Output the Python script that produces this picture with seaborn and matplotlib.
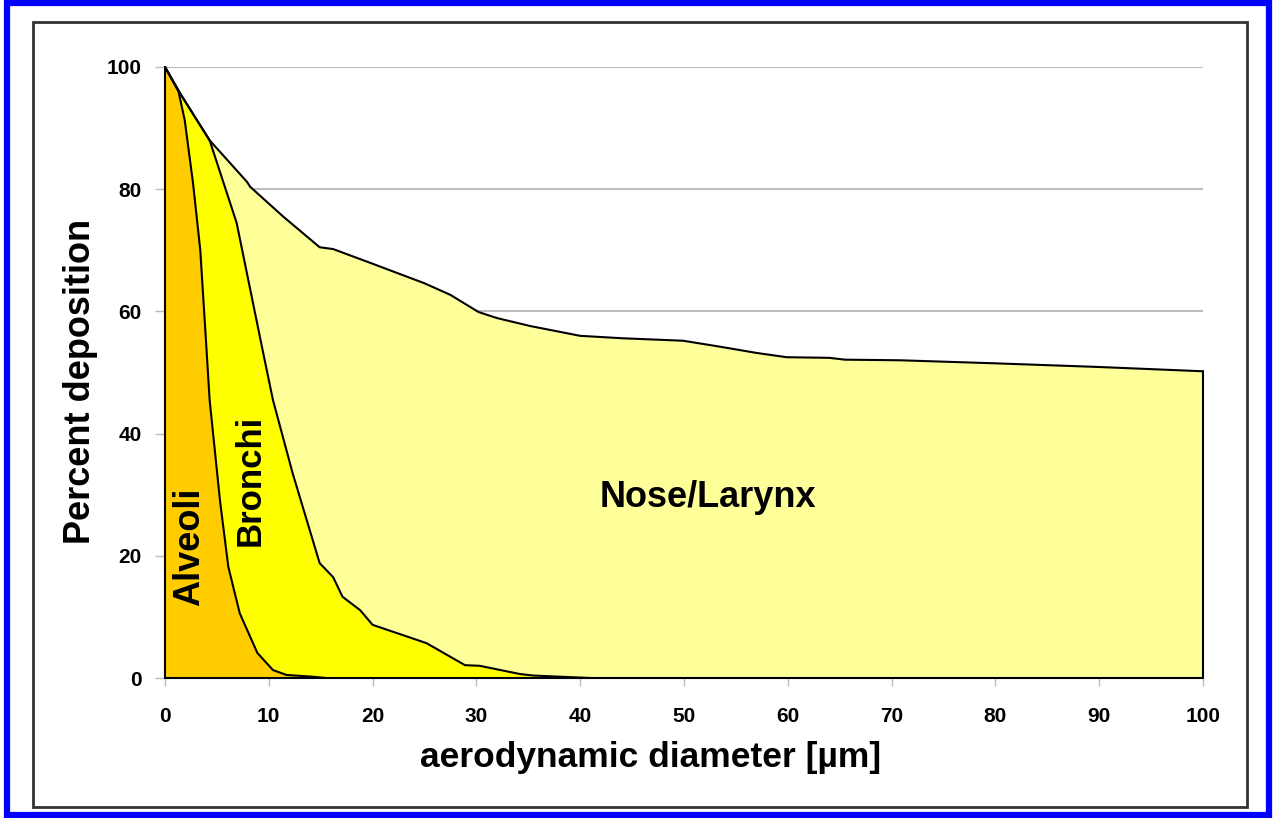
import numpy as np
import pandas as pd
import seaborn as sns
import matplotlib.pyplot as plt
from matplotlib.patches import Rectangle

# données : diamètre (µm) -> dépôt cumulé (%)
nose_x = [0, 1.45, 4.3, 7.9, 8.2, 11.4, 14.9, 16.2, 20, 25, 27.5, 30.2, 32, 35.2, 40, 44.1,
          49.9, 53.2, 57, 59.9, 64, 65.5, 70.8, 80, 90, 100]
nose_y = [100, 95.7, 88, 81.2, 80.4, 75.5, 70.5, 70.2, 67.8, 64.6, 62.7, 59.9, 58.9, 57.6, 56,
          55.6, 55.2, 54.3, 53.2, 52.5, 52.4, 52.1, 52, 51.5, 50.9, 50.2]

bronchi_x = [0, 1.45, 4.3, 6.9, 9.4, 10.4, 12.3, 14.9, 16.2, 17.1, 18.8, 20, 25.2, 28.9,
             30.3, 34.2, 35.5, 41]
bronchi_y = [100, 95.7, 88, 74.5, 53.7, 45.5, 33.5, 18.8, 16.5, 13.3, 11.1, 8.7, 5.7, 2.1,
             2.0, 0.65, 0.4, 0.0]

alveoli_x = [0, 1.3, 1.9, 2.7, 3.4, 3.9, 4.3, 5.3, 6.1, 7.2, 8.9, 10.4, 11.7, 14.3, 15.5]
alveoli_y = [100, 96, 91.3, 81, 70, 56.5, 45.5, 29, 18.2, 10.6, 4.1, 1.3, 0.5, 0.2, 0.0]

regions = [
    ('Nose/Larynx', nose_x, nose_y, '#FFFF99'),
    ('Bronchi', bronchi_x, bronchi_y, '#FFFF00'),
    ('Alveoli', alveoli_x, alveoli_y, '#FFCC00'),
]

sns.set_style('white')
plt.rcParams['font.family'] = ['Liberation Sans', 'DejaVu Sans']
plt.rcParams['text.color'] = 'black'
plt.rcParams['xtick.color'] = 'black'
plt.rcParams['ytick.color'] = 'black'
plt.rcParams['axes.labelcolor'] = 'black'

fig = plt.figure(figsize=(12.73, 8.18), dpi=100)

# cadre bleu + cadre noir du graphique
fig.patches.append(Rectangle((7 / 1273, 3 / 818), 1262 / 1273, 812 / 818, transform=fig.transFigure,
                             fill=False, edgecolor='#0000FF', linewidth=4.5))
fig.patches.append(Rectangle((33 / 1273, 11 / 818), 1214 / 1273, 785 / 818, transform=fig.transFigure,
                             fill=False, edgecolor='#333333', linewidth=2))

ax = fig.add_axes([165 / 1273, 140 / 818, 1038 / 1273, 611 / 818])

for name, xs, ys, color in regions:
    df = pd.DataFrame({'x': xs, 'y': ys})
    ax.fill_between(df['x'], 0, df['y'], color=color, linewidth=0, zorder=2)
    sns.lineplot(data=df, x='x', y='y', color='black', linewidth=1.5, ax=ax,
                 zorder=3, clip_on=False, sort=False)

# bords de la zone : ligne à x=0, en bas et à x=100
ax.plot([0, 0], [0, 100], color='black', linewidth=1.5, zorder=3, clip_on=False)
ax.plot([0, 100], [0, 0], color='black', linewidth=1.5, zorder=3, clip_on=False)
ax.plot([100, 100], [0, nose_y[-1]], color='black', linewidth=1.5, zorder=3, clip_on=False)

ax.set_xlim(0, 100)
ax.set_ylim(0, 100)
ax.set_xticks(np.arange(0, 101, 10))
ax.set_yticks(np.arange(0, 101, 20))
ax.yaxis.grid(True, color='#BDBDBD', linewidth=1.5, zorder=0)
ax.set_axisbelow(True)
for s in ['top', 'right', 'left', 'bottom']:
    ax.spines[s].set_visible(False)

ax.tick_params(axis='x', direction='out', length=6, width=1, color='#BBBBBB', pad=15,
               labelsize=15, labelcolor='black', bottom=True)
ax.tick_params(axis='y', direction='out', length=7, width=1, color='#BBBBBB', pad=10,
               labelsize=15, labelcolor='black', left=True)
for lab in ax.get_xticklabels() + ax.get_yticklabels():
    lab.set_fontweight('bold')

ax.set_xlabel('aerodynamic diameter [µm]', fontsize=25.5, fontweight='bold')
ax.set_ylabel('Percent deposition', fontsize=26, fontweight='bold')
ax.xaxis.label.set_va('center')
ax.yaxis.label.set_va('center')
ax.xaxis.set_label_coords(486 / 1038, -80 / 611)
ax.yaxis.set_label_coords(-85 / 1038, 297 / 611)

ax.text(52.3, 29.6, 'Nose/Larynx', fontsize=26, fontweight='bold', ha='center', va='center', zorder=4)
ax.text(8.2, 32.4, 'Bronchi', fontsize=25, fontweight='bold', rotation=90, ha='center', va='center', zorder=4)
ax.text(2.4, 21.4, 'Alveoli', fontsize=26, fontweight='bold', rotation=90, ha='center', va='center', zorder=4)

fig.savefig('out.png', dpi=100, facecolor='white')
